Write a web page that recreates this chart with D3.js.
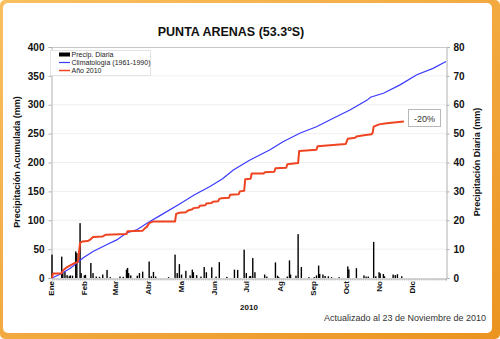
<!DOCTYPE html>
<html><head><meta charset="utf-8">
<script src="https://cdn.jsdelivr.net/npm/d3@7/dist/d3.min.js"></script>
<style>body{margin:0;background:#fff}svg{display:block}text{font-family:"Liberation Sans",Arial,sans-serif}</style>
</head><body><svg id="c" width="500" height="339"></svg>
<script>
const months = ["Ene","Feb","Mar","Abr","Ma","Jun","Jul","Ag","Sep","Oct","No","Dic"];
const monthStartDays = [0,31,59,90,120,151,181,212,243,273,304,334];
const leftTicks = [0,50,100,150,200,250,300,350,400];
const rightTicks = [0,10,20,30,40,50,60,70,80];

const climDays   = [0,8,17,29,38,51,60,69,79,88,100,119,132,146,158,168,183,202,214,230,245,261,276,292,295,307,322,338,353,365];
const climValues = [0,7,17,35,46,58,66,78,84,95,108,129,144,158,172,187,204,222,236,251,262,277,291,308,313,320,334,352,363,375];

const y2010Days   = [0,1,9,10,12,14,17,20,23,24,26,28,33,35,38,47,50,69,70,84,86,88,90,94,114,115,118,124,126,130,131,136,137,142,143,148,149,154,155,157,164,165,173,174,178,179,184,185,196,197,206,207,217,218,228,229,245,246,272,274,281,282,289,296,297,298,303,310,326];
const y2010Values = [0,8,8,13,16,19,22,25,27,28,61,63,64,66,71,72,75,76,81,82,86,89,95,98,98,111,113,114,117,119,121,122,125,126,129,130,132,133,137,138,139,144,145,150,151,171,172,181,181,183,184,190,191,197,199,220,222,228,232,241,243,245,247,249,251,262,266,268,271];

const dailyDays   = [0,9,10,12,14,16,17,19,22,23,26,27,30,31,36,38,41,44,47,51,54,63,66,69,70,71,73,79,81,84,90,92,94,96,108,114,116,118,120,124,128,130,131,134,138,141,143,148,152,155,162,169,172,178,180,183,184,186,188,197,199,207,209,210,218,220,221,226,228,231,238,243,245,247,248,251,253,256,259,266,274,275,282,289,291,293,298,300,303,304,307,308,316,318,320,324];
const dailyValues = [8.1,7.4,1.7,2.3,1.0,0.6,0.9,0.8,9.2,8.6,19.0,1.7,0.9,1.1,5.2,1.7,0.5,0.4,1.2,2.8,0.3,0.5,0.4,2.9,3.5,1.7,0.9,0.8,1.7,2.2,5.7,0.6,2.1,0.5,0.3,8.1,1.7,4.8,1.2,2.5,0.9,2.9,2.0,1.0,0.5,3.8,2.0,3.7,0.5,5.5,0.4,2.9,2.8,9.8,1.7,0.6,0.7,6.9,2.0,1.2,0.5,5.4,0.8,0.3,0.5,6.1,1.2,0.8,15.2,3.8,0.3,0.3,0.9,4.3,1.4,1.2,0.7,0.6,0.3,0.3,4.0,3.0,3.4,0.9,0.5,0.5,12.5,0.6,2.0,1.6,1.4,0.6,1.2,1.0,1.3,0.6];

const svg = d3.select("#c");
const L = 52, R = 446, T = 47, B = 278;
const x = d3.scaleLinear().domain([0,365]).range([L,R]);
const yL = d3.scaleLinear().domain([0,400]).range([B,T]);
const yR = d3.scaleLinear().domain([0,80]).range([B,T]);

// frame
const defs = svg.append("defs");
const g1 = defs.append("linearGradient").attr("id","fr").attr("x1","0").attr("y1","0").attr("x2","1").attr("y2","1");
g1.append("stop").attr("offset","0").attr("stop-color","#f9c060");
g1.append("stop").attr("offset","1").attr("stop-color","#eb9420");
svg.append("rect").attr("x",0).attr("y",0).attr("width",500).attr("height",339).attr("rx",5).attr("fill","url(#fr)");
svg.append("rect").attr("x",3).attr("y",3).attr("width",489).attr("height",330).attr("rx",5).attr("fill","#fff");

// grid
svg.append("g").selectAll("line").data(leftTicks.slice(1,-1)).join("line")
  .attr("x1",L).attr("x2",R).attr("y1",d=>yL(d)).attr("y2",d=>yL(d))
  .attr("stroke","#efefef").attr("stroke-width",1);

// plot border
svg.append("line").attr("x1",L).attr("x2",R).attr("y1",T+0.5).attr("y2",T+0.5).attr("stroke","#c8c8c8");

// axes
const axL = svg.append("g").attr("transform",`translate(${L-0.5},0)`)
  .call(d3.axisLeft(yL).tickValues(leftTicks).tickSize(3).tickPadding(4));
const axR = svg.append("g").attr("transform",`translate(${R+0.5},0)`)
  .call(d3.axisRight(yR).tickValues(rightTicks).tickSize(3).tickPadding(4));
[axL,axR].forEach(a=>{
  a.select(".domain").attr("stroke","#b0b0b0");
  a.selectAll(".tick line").attr("stroke","#b0b0b0");
  a.selectAll(".tick text").attr("font-size",10).attr("font-weight","bold").attr("fill","#111")
   .attr("font-family","Liberation Sans, Arial, sans-serif");
});

// bottom axis with minor ticks
const minor = d3.range(0,366,2);
const axB = svg.append("g").attr("transform",`translate(0,${B+0.5})`)
  .call(d3.axisBottom(x).tickValues(minor).tickSize(2).tickFormat(""));
axB.select(".domain").attr("stroke","#b0b0b0");
axB.selectAll(".tick line").attr("stroke","#c0c0c0");

// bars
svg.append("g").selectAll("rect").data(dailyDays.map((d,i)=>({d,v:dailyValues[i]}))).join("rect")
  .attr("x",p=>x(p.d)-0.7).attr("width",1.4)
  .attr("y",p=>yR(p.v)).attr("height",p=>yR(0)-yR(p.v))
  .attr("fill","#000");

// climatology
svg.append("path").datum(climDays.map((d,i)=>[d,climValues[i]]))
  .attr("fill","none").attr("stroke","#3a3aff").attr("stroke-width",1.2)
  .attr("d",d3.line().x(p=>x(p[0])).y(p=>yL(p[1])));

// 2010
svg.append("path").datum(y2010Days.map((d,i)=>[d,y2010Values[i]]))
  .attr("fill","none").attr("stroke","#ee4422").attr("stroke-width",2).attr("stroke-linejoin","round")
  .attr("d",d3.line().x(p=>x(p[0])).y(p=>yL(p[1])));

// month labels
svg.append("g").selectAll("text").data(months).join("text")
  .attr("transform",(m,i)=>`translate(${x(monthStartDays[i])+2},281) rotate(-90)`)
  .attr("text-anchor","end").attr("font-size",8).attr("font-weight","bold").attr("fill","#111")
  .text(m=>m);

// titles
svg.append("text").attr("x",231).attr("y",36).attr("text-anchor","middle")
  .attr("font-size",12.5).attr("font-weight","bold").attr("fill","#111").text("PUNTA ARENAS (53.3ºS)");
svg.append("text").attr("transform","translate(20,162) rotate(-90)").attr("text-anchor","middle")
  .attr("font-size",9).attr("font-weight","bold").attr("fill","#111").text("Precipitación Acumulada (mm)");
svg.append("text").attr("transform","translate(480,162) rotate(-90)").attr("text-anchor","middle")
  .attr("font-size",9).attr("font-weight","bold").attr("fill","#111").text("Precipitación Diaria (mm)");
svg.append("text").attr("x",249).attr("y",310).attr("text-anchor","middle")
  .attr("font-size",8).attr("font-weight","bold").attr("fill","#111").text("2010");
svg.append("text").attr("x",486).attr("y",321).attr("text-anchor","end")
  .attr("font-size",9).attr("fill","#333").text("Actualizado al 23 de Noviembre de 2010");

// legend
const lg = svg.append("g");
lg.append("rect").attr("x",50.5).attr("y",50.5).attr("width",100).attr("height",25).attr("fill","#fff").attr("stroke","#e4e4e4");
lg.append("rect").attr("x",59).attr("y",52.5).attr("width",11).attr("height",4).attr("fill","#000");
lg.append("line").attr("x1",59).attr("x2",70).attr("y1",62.5).attr("y2",62.5).attr("stroke","#3a3aff").attr("stroke-width",1.2);
lg.append("line").attr("x1",59).attr("x2",70).attr("y1",70.5).attr("y2",70.5).attr("stroke","#ee4422").attr("stroke-width",1.5);
[["Precip. Diaria",57.3],["Climatología (1961-1990)",65.3],["Año 2010",73.3]].forEach(([t,yy])=>{
  lg.append("text").attr("x",71.5).attr("y",yy).attr("font-size",7).attr("fill","#222").text(t);
});

// annotation
svg.append("rect").attr("x",408.5).attr("y",109.5).attr("width",32).attr("height",17).attr("fill","#fff").attr("stroke","#b8b8b8");
svg.append("text").attr("x",424.5).attr("y",121.5).attr("text-anchor","middle").attr("font-size",9).attr("fill","#333").text("-20%");
</script></body></html>
